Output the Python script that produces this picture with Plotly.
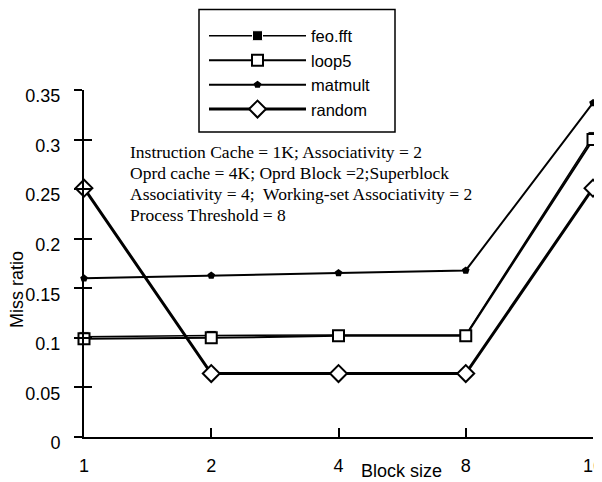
import plotly.graph_objects as go

block_sizes = ["1", "2", "4", "8", "16"]
feo_fft = [0.101, 0.1025, 0.103, 0.103, 0.303]
loop5 = [0.099, 0.1, 0.102, 0.102, 0.3]
matmult = [0.16, 0.163, 0.1655, 0.168, 0.337]
random_ = [0.251, 0.064, 0.064, 0.064, 0.251]
y_ticks = [0, 0.05, 0.1, 0.15, 0.2, 0.25, 0.3, 0.35]
y_tick_text = ["0", "0.05", "0.1", "0.15", "0.2", "0.25", "0.3", "0.35"]
notes = [
    "Instruction Cache = 1K; Associativity = 2",
    "Oprd cache = 4K; Oprd Block =2;Superblock",
    "Associativity = 4;  Working-set Associativity = 2",
    "Process Threshold = 8",
]

SANS = "Arial, Liberation Sans, sans-serif"
SERIF = "Times New Roman, Liberation Serif, serif"
xs = list(range(len(block_sizes)))

# plot area in screenshot pixels (page body has an 8px margin)
PL, PR, PT, PB = 84, 593, 90, 437
OFF = 8
PW, PH = PR - PL, PB - PT

def px(x):
    return (x - PL) / PW

def py(y):
    return (PB - y) / PH

fig = go.Figure()
fig.add_trace(go.Scatter(x=xs, y=feo_fft, name="feo.fft", mode="lines+markers",
                         line=dict(color="black", width=1.5),
                         marker=dict(symbol="square", size=10, color="black",
                                     line=dict(color="white", width=1)),
                         cliponaxis=False))
fig.add_trace(go.Scatter(x=xs, y=loop5, name="loop5", mode="lines+markers",
                         line=dict(color="black", width=2),
                         marker=dict(symbol="square", size=11, color="white",
                                     line=dict(color="black", width=2)),
                         cliponaxis=False))
fig.add_trace(go.Scatter(x=xs, y=matmult, name="matmult", mode="lines+markers",
                         line=dict(color="black", width=2),
                         marker=dict(symbol="pentagon", size=8, color="black",
                                     line=dict(color="black", width=0)),
                         cliponaxis=False))
fig.add_trace(go.Scatter(x=xs, y=random_, name="random", mode="lines+markers",
                         line=dict(color="black", width=3),
                         marker=dict(symbol="diamond", size=13, color="white",
                                     line=dict(color="black", width=2)),
                         cliponaxis=False))
# overlay axis to give cross-style y ticks
fig.add_trace(go.Scatter(x=[0], y=[0], yaxis="y2", mode="markers", showlegend=False,
                         hoverinfo="skip", marker=dict(opacity=0)))

fig.update_layout(
    template="none",
    width=602, height=482,
    margin=dict(l=PL - OFF, r=602 - (PR - OFF), t=PT - OFF, b=482 - (PB - OFF),
                autoexpand=False),
    paper_bgcolor="white", plot_bgcolor="white",
    showlegend=True,
    legend=dict(x=px(204), y=py(5.5), xanchor="left", yanchor="top",
                borderwidth=0, bgcolor="rgba(0,0,0,0)",
                font=dict(family=SANS, size=16.5, color="black"),
                title=dict(text="\u00a0", font=dict(family=SANS, size=10)),
                itemwidth=97, tracegroupgap=0),
    # legend frame
    shapes=[dict(type="rect", xref="paper", yref="paper",
                 x0=px(199), x1=px(395), y0=py(132), y1=py(9.5),
                 line=dict(color="black", width=1.5), fillcolor="rgba(0,0,0,0)",
                 layer="below")],
    xaxis=dict(range=[0, 4], tickvals=xs, ticktext=block_sizes, showgrid=False,
               automargin=False,
               zeroline=False, showline=True, linecolor="black", linewidth=2,
               ticks="inside", ticklen=9, tickwidth=1.5, tickcolor="black",
               tickfont=dict(family=SANS, size=18, color="black"),
               ticklabelstandoff=11),
    yaxis=dict(range=[0, 0.35], tickvals=y_ticks, ticktext=y_tick_text, showgrid=False,
               automargin=False,
               zeroline=False, showline=True, linecolor="black", linewidth=2,
               ticks="outside", ticklen=8, tickwidth=2, tickcolor="black",
               tickfont=dict(family=SANS, size=18, color="black"),
               ticklabelstandoff=10, ticklabelshift=6),
    yaxis2=dict(range=[0, 0.35], overlaying="y", anchor="x", side="left", tickvals=y_ticks,
                automargin=False,
                showticklabels=False, showgrid=False, zeroline=False, showline=False,
                ticks="inside", ticklen=8, tickwidth=2, tickcolor="black"),
)

annotations = [
    dict(text="Miss ratio", x=px(17), y=py(290), xref="paper", yref="paper",
         xanchor="center", yanchor="middle",
         textangle=-90, showarrow=False, font=dict(family=SANS, size=18, color="black")),
    dict(text="Block size", x=px(401), y=py(471), xref="paper", yref="paper",
         xanchor="center", yanchor="middle",
         showarrow=False, font=dict(family=SANS, size=18, color="black")),
]
for i, line in enumerate(notes):
    annotations.append(dict(text=line, x=px(128), y=py(152 + 21 * i),
                            xref="paper", yref="paper", xanchor="left", yanchor="middle",
                            showarrow=False, font=dict(family=SERIF, size=17.5, color="black")))
fig.update_layout(annotations=annotations)

fig.write_html("out.html")
